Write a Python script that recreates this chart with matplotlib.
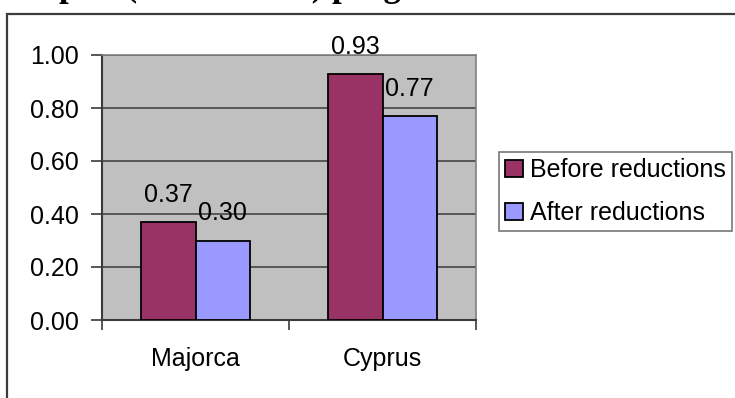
import matplotlib.pyplot as plt
import numpy as np
from matplotlib.patches import Rectangle

# values per destination, before and after the reductions
destinations = ["Majorca", "Cyprus"]
before = [0.37, 0.93]
after = [0.30, 0.77]
series_names = ["Before reductions", "After reductions"]
y_ticks = [0.0, 0.2, 0.4, 0.6, 0.8, 1.0]

plt.rcParams['font.family'] = ['Liberation Sans', 'DejaVu Sans']
FS = 18

W, H = 735, 398
fig = plt.figure(figsize=(W / 100, H / 100), dpi=100)
ax = fig.add_axes([102 / W, 78 / H, 374 / W, 265 / H])

# heading of the page, mostly cut off above the chart frame
fig.text(-34 / W, 1 + 4.3 / H, "Per capita (tonnes CO2) programme",
         family=['Liberation Serif'], weight='bold', size=25,
         va='baseline', ha='left')

# chart frame
fig.patches.append(Rectangle((7 / W, -0.2), 2.0, 1.2 - 14 / H,
                             transform=fig.transFigure, fill=False,
                             ec='#3c3c3c', lw=1.6, zorder=0))

x = np.arange(len(destinations))
bw = 0.29
b1 = ax.bar(x - bw / 2, before, bw, color='#993366', edgecolor='black',
            lw=1.3, label=series_names[0], zorder=3)
b2 = ax.bar(x + bw / 2, after, bw, color='#9999ff', edgecolor='black',
            lw=1.3, label=series_names[1], zorder=3)

for bars, vals in ((b1, before), (b2, after)):
    for r, v in zip(bars, vals):
        ax.annotate(f"{v:.2f}", (r.get_x() + r.get_width() / 2, v),
                    xytext=(0, 14.4), textcoords='offset points',
                    ha='center', va='baseline', fontsize=FS,
                    annotation_clip=False, zorder=4)

ax.set_facecolor('#c0c0c0')
ax.set_ylim(0, 1)
ax.set_xlim(-0.5, len(destinations) - 0.5)
ax.set_yticks(y_ticks)
ax.set_yticklabels([f"{t:.2f}" for t in y_ticks])
ax.yaxis.grid(True, color='#3a3a3a', lw=1.1, zorder=1)
ax.set_axisbelow(True)

ax.set_xticks(np.arange(len(destinations) + 1) - 0.5)
ax.set_xticklabels([])
ax.set_xticks(x, minor=True)
ax.set_xticklabels(destinations, minor=True)
ax.tick_params(axis='x', which='major', length=7, width=1.2, color='#3a3a3a')
ax.tick_params(axis='x', which='minor', length=0, pad=19.5, labelsize=FS)
ax.tick_params(axis='y', length=8, width=1.2, color='#3a3a3a', pad=8.5,
               labelsize=FS)

for s in ('left', 'bottom'):
    ax.spines[s].set_color('#3a3a3a')
    ax.spines[s].set_linewidth(1.5)
for s in ('top', 'right'):
    ax.spines[s].set_color('#808080')
    ax.spines[s].set_linewidth(1.2)

leg = ax.legend(loc='upper left', bbox_to_anchor=(499 / W, 1 - 152 / H),
                bbox_transform=fig.transFigure, borderaxespad=0,
                fontsize=FS, frameon=True, fancybox=False, shadow=False,
                handlelength=0.7, handleheight=0.7, handletextpad=0.3,
                borderpad=0.25, labelspacing=0.75)
leg.get_frame().set_edgecolor('#555555')
leg.get_frame().set_linewidth(1.2)
leg.get_frame().set_facecolor('white')

fig.savefig("out.png", dpi=100)
